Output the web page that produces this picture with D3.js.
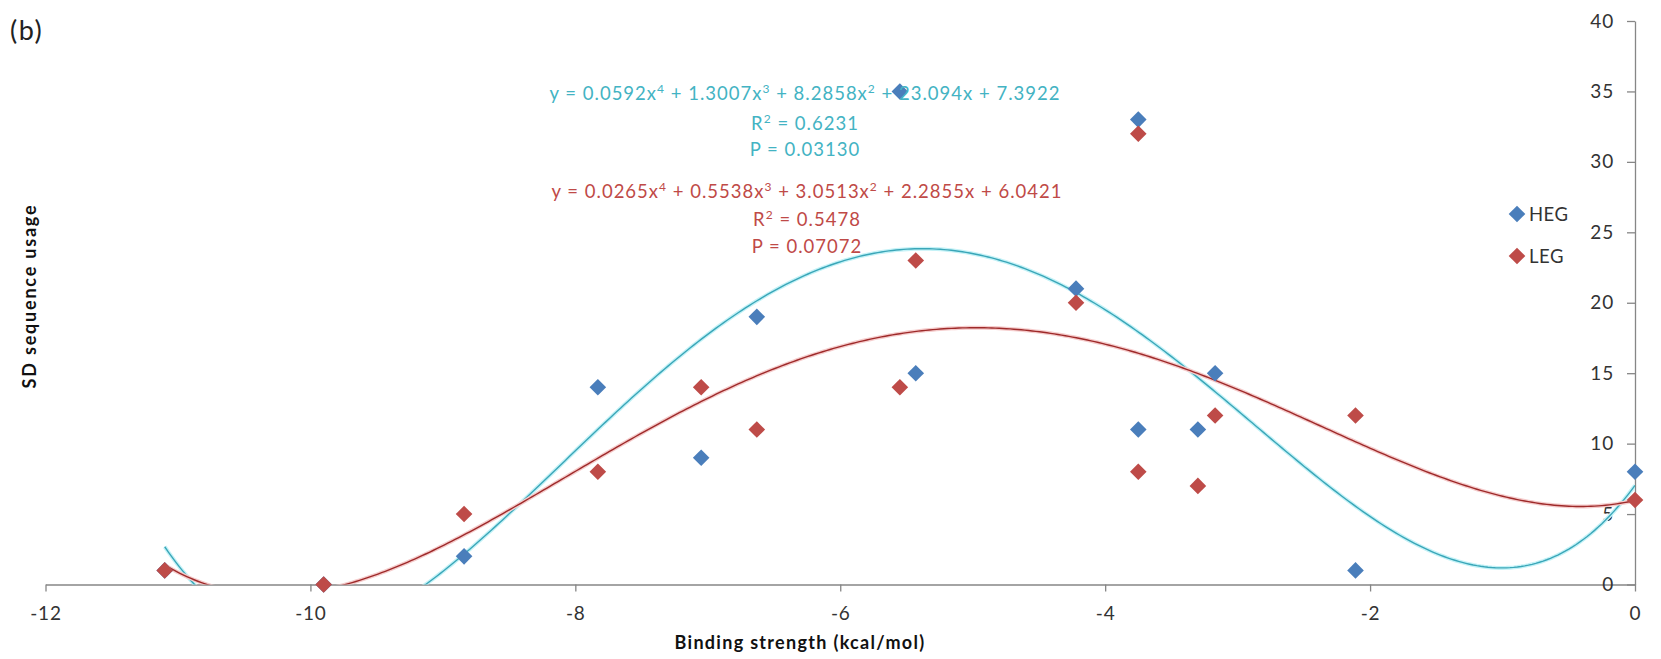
<!DOCTYPE html>
<html>
<head>
<meta charset="utf-8">
<script src="https://cdn.jsdelivr.net/npm/d3@7"></script>
<style>
  html, body { margin: 0; padding: 0; background: #fff; }
  svg { display: block; font-family: Lato, "Open Sans", sans-serif; }
</style>
</head>
<body>
<svg id="chart" width="1661" height="659"></svg>
<script>
// ---- data ----
const bindingStrength = [-11.10, -9.90, -8.84, -7.83, -7.05, -6.63, -5.55, -5.43, -4.22, -3.75, -3.75, -3.30, -3.17, -2.11, 0];
const hegValues = [1, 0, 2, 14, 9, 19, 35, 15, 21, 33, 11, 11, 15, 1, 8];
const legValues = [1, 0, 5, 8, 14, 11, 14, 23, 20, 32, 8, 7, 12, 12, 6];
const seriesNames = ["HEG", "LEG"];
const xTicks = [-12, -10, -8, -6, -4, -2, 0];
const yTicks = [0, 5, 10, 15, 20, 25, 30, 35, 40];
const hegEquation = [["y = 0.0592x", "4", " + 1.3007x", "3", " + 8.2858x", "2", " + 23.094x + 7.3922"], ["R", "2", " = 0.6231"], ["P = 0.03130"]];
const legEquation = [["y = 0.0265x", "4", " + 0.5538x", "3", " + 3.0513x", "2", " + 2.2855x + 6.0421"], ["R", "2", " = 0.5478"], ["P = 0.07072"]];

// ---- layout ----
const svg = d3.select("#chart");
const x = d3.scaleLinear().domain([-12, 0]).range([45.5, 1635]);
const y = d3.scaleLinear().domain([0, 40]).range([584.5, 21]);

const colors = { HEG: "#4a7ebb", LEG: "#be4b48" };
const trendColors = {
  HEG: { halo: "#c4f2f7", line: "#3aa6b8" },
  LEG: { halo: "#f5cccc", line: "#9e2a2a" }
};
const textColors = { HEG: "#43b3c3", LEG: "#bf4a47" };

svg.append("defs").append("clipPath").attr("id", "plotclip")
  .append("rect").attr("x", x(-12)).attr("y", 0)
  .attr("width", x(0) - x(-12)).attr("height", y(0));

// ---- axes ----
const axisColor = "#868686";
const labelColor = "#333";

const gx = svg.append("g").attr("transform", `translate(0,${y(0)})`)
  .call(d3.axisBottom(x).tickValues(xTicks).tickSize(7).tickSizeOuter(0).tickPadding(15)
    .tickFormat(d => String(d)));
gx.select(".domain").attr("stroke", axisColor).attr("stroke-width", 1.3);
gx.selectAll(".tick line").attr("stroke", axisColor).attr("stroke-width", 1.3);
gx.selectAll(".tick text").attr("fill", labelColor).style("font-size", "19px")
  .style("font-family", "Lato, sans-serif").style("letter-spacing", "0.8px");

const gy = svg.append("g").attr("transform", `translate(${x(0)},0)`)
  .call(d3.axisLeft(y).tickValues(yTicks).tickSize(8).tickSizeOuter(0).tickPadding(13));
gy.select(".domain").attr("stroke", axisColor).attr("stroke-width", 1.3);
gy.selectAll(".tick line").attr("stroke", axisColor).attr("stroke-width", 1.3);
gy.selectAll(".tick text").attr("fill", labelColor).style("font-size", "19px")
  .style("font-family", "Lato, sans-serif").style("letter-spacing", "0.8px");

// ---- trendlines: 4th-order least-squares fit of each series ----
function polyfit(xs, ys, order) {
  const n = order + 1;
  const A = Array.from({ length: n }, () => new Array(n + 1).fill(0));
  for (let i = 0; i < xs.length; i++) {
    for (let r = 0; r < n; r++) {
      for (let c = 0; c < n; c++) A[r][c] += Math.pow(xs[i], r + c);
      A[r][n] += ys[i] * Math.pow(xs[i], r);
    }
  }
  for (let col = 0; col < n; col++) {
    let piv = col;
    for (let r = col + 1; r < n; r++) if (Math.abs(A[r][col]) > Math.abs(A[piv][col])) piv = r;
    [A[col], A[piv]] = [A[piv], A[col]];
    for (let r = 0; r < n; r++) {
      if (r === col) continue;
      const f = A[r][col] / A[col][col];
      for (let c = col; c <= n; c++) A[r][c] -= f * A[col][c];
    }
  }
  return A.map((row, i) => row[n] / row[i]);
}
const evalPoly = (coef, v) => coef.reduce((s, c, i) => s + c * Math.pow(v, i), 0);

const series = [
  { name: "HEG", values: hegValues },
  { name: "LEG", values: legValues }
];

const trendG = svg.append("g").attr("clip-path", "url(#plotclip)");
const xmin = d3.min(bindingStrength), xmax = d3.max(bindingStrength);
series.forEach(s => {
  const coef = polyfit(bindingStrength, s.values, 4);
  const samples = d3.range(0, 401).map(i => xmin + (xmax - xmin) * i / 400);
  const line = d3.line().x(v => x(v)).y(v => y(evalPoly(coef, v))).curve(d3.curveLinear);
  trendG.append("path").attr("d", line(samples)).attr("fill", "none")
    .attr("stroke", trendColors[s.name].halo).attr("stroke-width", 4);
  trendG.append("path").attr("d", line(samples)).attr("fill", "none")
    .attr("stroke", trendColors[s.name].line).attr("stroke-width", 1.4);
});

// ---- markers ----
const R = 8.3;
const diamond = `M0,${-R}L${R},0L0,${R}L${-R},0Z`;
series.forEach(s => {
  svg.append("g").selectAll("path").data(s.values).join("path")
    .attr("d", diamond)
    .attr("transform", (d, i) => `translate(${x(bindingStrength[i])},${y(d)})`)
    .attr("fill", colors[s.name]);
});

// ---- equation labels ----
function drawLines(lines, cx, ys, color) {
  lines.forEach((parts, li) => {
    const t = svg.append("text").attr("x", cx).attr("y", ys[li])
      .attr("text-anchor", "middle").attr("fill", color)
      .style("font-size", "18.5px").style("letter-spacing", "1px");
    parts.forEach((p, pi) => {
      const sup = pi % 2 === 1;
      t.append("tspan").text(p)
        .attr("dy", sup ? -7 : (pi > 0 ? 7 : 0))
        .style("font-size", sup ? "12px" : "18.5px");
    });
  });
}
drawLines(hegEquation, 805, [100, 129.5, 155.5], textColors.HEG);
drawLines(legEquation, 807, [198, 226, 252.5], textColors.LEG);

// ---- legend ----
const legend = svg.append("g");
seriesNames.forEach((name, i) => {
  const ly = 214 + i * 42;
  legend.append("path").attr("d", diamond).attr("transform", `translate(1517,${ly})`).attr("fill", colors[name]);
  legend.append("text").attr("x", 1529).attr("y", ly + 6.5).text(name)
    .attr("fill", labelColor).style("font-size", "18.5px").style("letter-spacing", "0.5px");
});

// ---- titles ----
svg.append("text").attr("x", 10).attr("y", 40).text("(b)")
  .attr("fill", "#222").style("font-size", "27px").style("letter-spacing", "1.5px");
svg.append("text").attr("x", 800).attr("y", 649).text("Binding strength (kcal/mol)")
  .attr("text-anchor", "middle").attr("fill", "#111")
  .style("font-size", "18px").style("font-weight", "bold").style("letter-spacing", "1.3px");
svg.append("text").attr("transform", "translate(36,296) rotate(-90)")
  .text("SD sequence usage").attr("text-anchor", "middle").attr("fill", "#111")
  .style("font-size", "18px").style("font-weight", "bold").style("letter-spacing", "1.8px");
</script>
</body>
</html>
